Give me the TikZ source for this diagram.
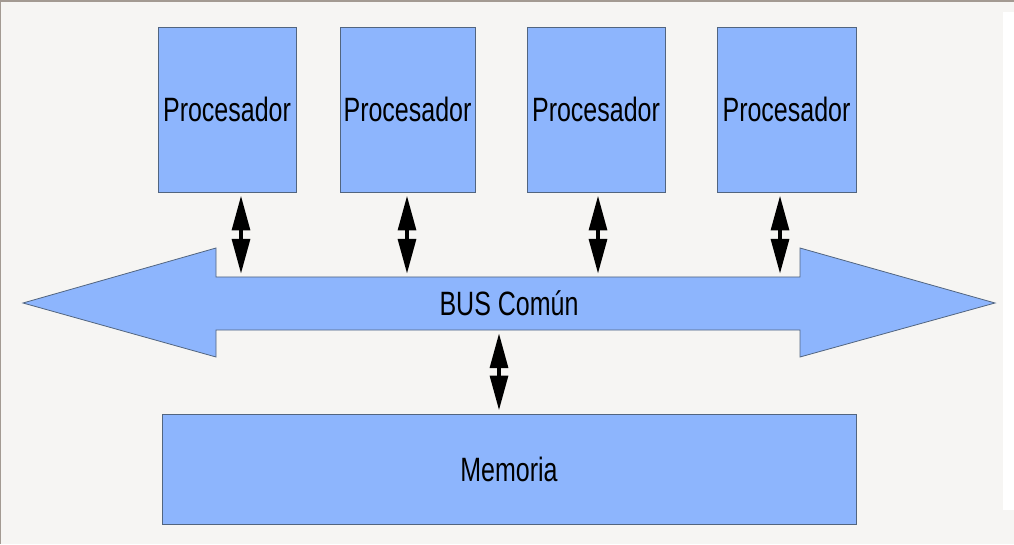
\documentclass[tikz,border=0pt]{standalone}
\usepackage{fontspec}
\setmainfont{Liberation Sans}
\usetikzlibrary{arrows.meta}
\definecolor{bgc}{HTML}{F6F5F3}
\definecolor{boxfill}{HTML}{8DB5FD}
\definecolor{boxline}{HTML}{52657F}
\definecolor{frame}{HTML}{A39A92}
\tikzset{
  box/.style={draw=boxline, fill=boxfill, line width=0.8pt, inner sep=0pt,
    font=\fontsize{25}{25}\selectfont},
  dbl/.style={line width=4.5pt, black,
    {Triangle[length=35pt,width=17.5pt]}-{Triangle[length=35pt,width=17.5pt]},
    shorten <=3pt, shorten >=3pt},
}
\newcommand{\tall}[1]{\scalebox{1}[1.35]{#1}}
\begin{document}
\begin{tikzpicture}[x=1pt,y=1pt]
\useasboundingbox (0,0) rectangle (1014,544);
\fill[bgc] (0,0) rectangle (1014,544);
\fill[white] (1003,34) rectangle (1014,532);
\fill[frame] (0,541.5) rectangle (1014,544);
\fill[frame] (0,0) rectangle (1,544);

% processors
\node[box, minimum width=138pt, minimum height=165pt] (p1) at (227,434.5) {\tall{Procesador}};
\node[box, minimum width=135pt, minimum height=165pt] (p2) at (407.5,434.5) {\tall{Procesador}};
\node[box, minimum width=138pt, minimum height=165pt] (p3) at (596,434.5) {\tall{Procesador}};
\node[box, minimum width=139pt, minimum height=165pt] (p4) at (786.5,434.5) {\tall{Procesador}};

% bus
\coordinate (btop) at (0,267);
\coordinate (bbot) at (0,214);
\draw[draw=boxline, fill=boxfill, line width=0.8pt]
  (23,241) -- (216,296) -- (216,267) -- (800,267) -- (800,296) -- (995,241)
  -- (800,187) -- (800,214) -- (216,214) -- (216,187) -- cycle;
\node[font=\fontsize{25}{25}\selectfont] (bus) at (509,241) {\tall{BUS Común}};

% memory
\node[box, minimum width=694pt, minimum height=110pt] (mem) at (509,75) {\tall{Memoria}};

% connectors
\draw[dbl] ([xshift=14pt]p1.south) -- ([xshift=14pt]p1.south |- btop);
\draw[dbl] ([xshift=-0.5pt]p2.south) -- ([xshift=-0.5pt]p2.south |- btop);
\draw[dbl] ([xshift=2pt]p3.south) -- ([xshift=2pt]p3.south |- btop);
\draw[dbl] ([xshift=-6.5pt]p4.south) -- ([xshift=-6.5pt]p4.south |- btop);
\draw[dbl] ([xshift=-10pt]mem.north |- bbot) -- ([xshift=-10pt]mem.north);
\end{tikzpicture}
\end{document}
